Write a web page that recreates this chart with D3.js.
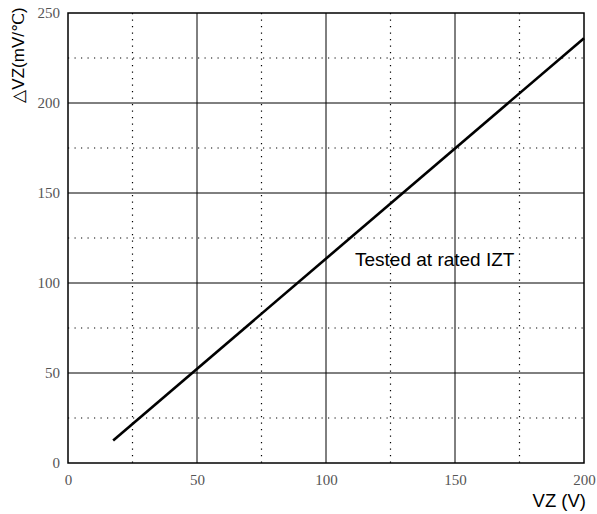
<!DOCTYPE html>
<html>
<head>
<meta charset="utf-8">
<script src="https://cdn.jsdelivr.net/npm/d3@7"></script>
<style>
  body { margin: 0; background: #fff; }
</style>
</head>
<body>
<div id="chart"></div>
<script>
// tick values and line data
let xTicks = [0, 50, 100, 150, 200]
let yTicks = [0, 50, 100, 150, 200, 250]
let xMinor = [25, 75, 125, 175]
let yMinor = [25, 75, 125, 175, 225]
let vz = [17.5, 200]
let dvz = [12.5, 236]

let margin = {top: 13, right: 13, bottom: 51, left: 68},
    width = 597 - margin.left - margin.right,
    height = 514 - margin.top - margin.bottom;

let svg = d3.select("#chart")
    .append("svg")
    .attr("width", 597)
    .attr("height", 514);
let g = svg.append("g")
    .attr("transform", "translate(" + margin.left + "," + margin.top + ")");

let x = d3.scaleLinear().domain([0, 200]).range([0, width])
let y = d3.scaleLinear().domain([0, 250]).range([height, 0])

// dotted minor grid
g.selectAll(".vminor").data(xMinor).enter().append("line")
    .attr("x1", d => x(d)).attr("x2", d => x(d))
    .attr("y1", 0).attr("y2", height)
    .style("stroke", "#000").style("stroke-width", 1.2)
    .style("stroke-dasharray", "1.2,5.3")
g.selectAll(".hminor").data(yMinor).enter().append("line")
    .attr("y1", d => y(d)).attr("y2", d => y(d))
    .attr("x1", 0).attr("x2", width)
    .style("stroke", "#000").style("stroke-width", 1.2)
    .style("stroke-dasharray", "1.2,5.3")

// solid major grid
g.selectAll(".vmajor").data(xTicks.slice(1, -1)).enter().append("line")
    .attr("x1", d => x(d)).attr("x2", d => x(d))
    .attr("y1", 0).attr("y2", height)
    .style("stroke", "#000").style("stroke-width", 1)
g.selectAll(".hmajor").data(yTicks.slice(1, -1)).enter().append("line")
    .attr("y1", d => y(d)).attr("y2", d => y(d))
    .attr("x1", 0).attr("x2", width)
    .style("stroke", "#000").style("stroke-width", 1)

// frame
g.append("rect")
    .attr("width", width).attr("height", height)
    .style("fill", "none").style("stroke", "#000").style("stroke-width", 1.5)

// axes (labels only)
let xAxis = g.append("g")
    .attr("transform", "translate(0," + height + ")")
    .call(d3.axisBottom(x).tickValues(xTicks).tickSize(0).tickPadding(11))
let yAxis = g.append("g")
    .call(d3.axisLeft(y).tickValues(yTicks).tickSize(0).tickPadding(8))
;[xAxis, yAxis].forEach(a => {
    a.select(".domain").remove()
    a.selectAll("text")
        .style("font-family", "'Liberation Serif', serif")
        .style("font-size", "15px")
        .style("fill", "#555")
})

// the data line
let pts = vz.map((v, i) => [x(v), y(dvz[i])])
g.append("path")
    .attr("d", d3.line()(pts))
    .style("fill", "none").style("stroke", "#000").style("stroke-width", 2.6)

// annotation
g.append("text")
    .attr("x", 287).attr("y", 253)
    .style("font-family", "'Liberation Sans', Arial, sans-serif")
    .style("font-size", "19px")
    .text("Tested at rated IZT")

// axis titles
svg.append("text")
    .attr("x", 586).attr("y", 507)
    .attr("text-anchor", "end")
    .style("font-family", "'Liberation Sans', Arial, sans-serif")
    .style("font-size", "18.5px")
    .text("VZ (V)")

svg.append("text")
    .attr("transform", "translate(24,55) rotate(-90)")
    .attr("text-anchor", "middle")
    .style("font-family", "'Liberation Sans', Arial, sans-serif")
    .style("font-size", "17px")
    .text("\u25B3VZ(mV/\u2103)")
</script>
</body>
</html>
